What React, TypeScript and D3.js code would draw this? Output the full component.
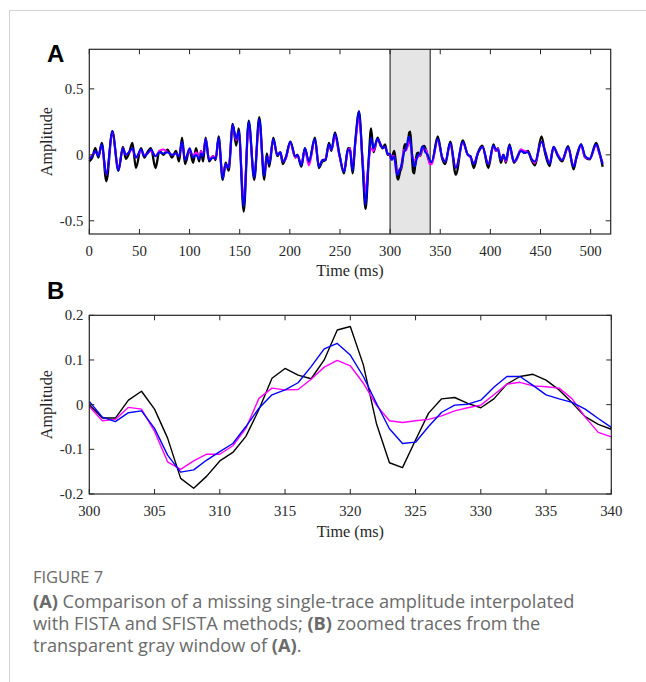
import React from "react";
import * as d3 from "d3";

// ---------- Panel A data (keypoints outside the zoom window, ms) ----------
const aTime = [
  0, 3, 6, 9, 12.5, 17, 23, 29, 33.5, 36.5, 39.5, 43, 46.5, 51.5, 55, 58, 61.5, 66, 70, 74,
  78, 82.5, 86.5, 89.5, 92.5, 95.5, 100, 103.5, 106.5, 109.5, 111.5, 113.5, 116, 119.5, 123.5, 126, 129, 133, 136, 139,
  143, 146.5, 149, 154, 159, 164.5, 169.5, 174.5, 177, 179.5, 183.5, 187.5, 190.5, 193, 196, 200.5, 205.5, 207.5, 211.5, 215,
  219, 225, 229, 232.5, 235.5, 239, 241.5, 245, 249.5, 254, 258, 260, 262.5, 265.5, 269, 272.5, 275.5, 278.5, 281, 283.5,
  287.5, 290.5, 292.5, 295, 297.5,
  341.5, 347.5, 352, 355, 360, 365.5, 372.5, 377.5, 380, 383.5, 387.5, 392, 398, 403, 405.5, 407.5, 410.5, 413, 415.5, 419,
  423.5, 426, 430.5, 434, 437.5, 441, 444.5, 451, 454.5, 459, 463, 467.5, 471.5, 477.5, 483, 486, 490.5, 494.5, 499, 505.5,
  509, 512,
];
const aReference = [
  -0.05, -0.02, 0.05, -0.02, 0.09, -0.2, 0.18, -0.12, 0.06, -0.03, 0.01, 0.09, -0.1, 0.05, -0.02, 0.02, 0.05, -0.1, 0.03, 0.0,
  0.04, -0.02, 0.03, -0.05, 0.13, -0.07, 0.04, -0.06, 0.05, -0.05, 0.03, -0.05, 0.13, -0.05, -0.01, -0.04, 0.14, -0.19, -0.06, -0.12,
  0.235, 0.07, 0.2, -0.43, 0.26, -0.19, 0.285, -0.19, 0.01, -0.09, 0.13, -0.01, 0.02, -0.07, -0.02, 0.1, -0.02, 0.0, -0.09, 0.05,
  -0.06, 0.13, -0.1, -0.05, -0.04, 0.09, 0.03, 0.17, 0.0, -0.14, 0.05, 0.05, -0.14, 0.12, 0.33, -0.06, -0.41, -0.06, 0.2, 0.02,
  0.13, 0.07, 0.05, 0.08, 0.0,
  -0.06, 0.14, -0.03, -0.07, 0.1, -0.15, 0.11, 0.0, -0.01, -0.1, 0.015, 0.07, -0.1, 0.08, 0.03, 0.05, -0.06, 0.0, -0.06, 0.08,
  -0.06, -0.035, 0.04, 0.015, 0.03, -0.04, -0.08, 0.14, 0.015, -0.085, 0.06, -0.01, -0.05, 0.065, -0.11, -0.01, 0.08, -0.02, -0.035, 0.09,
  0.01, -0.09,
];
const aFista = [
  -0.03, 0.0, 0.02, 0.0, 0.07, -0.15, 0.17, -0.11, 0.05, 0.0, 0.02, 0.04, -0.02, 0.03, 0.0, 0.01, 0.03, -0.01, 0.03, 0.04,
  0.02, 0.0, 0.01, -0.01, 0.09, -0.03, 0.03, -0.01, 0.02, -0.02, 0.03, 0.0, 0.12, -0.03, -0.01, -0.03, 0.12, -0.17, -0.07, -0.1,
  0.22, 0.11, 0.17, -0.34, 0.22, -0.16, 0.24, -0.15, -0.02, -0.04, 0.11, 0.0, 0.02, -0.05, -0.03, 0.09, -0.02, 0.0, -0.07, 0.04,
  -0.08, 0.11, -0.08, -0.04, -0.03, 0.06, 0.04, 0.14, -0.01, -0.12, 0.03, 0.05, -0.1, 0.1, 0.28, -0.02, -0.28, -0.06, 0.05, 0.03,
  0.12, 0.08, 0.05, 0.06, 0.01,
  -0.07, 0.11, -0.02, -0.05, 0.08, -0.1, 0.09, 0.0, -0.02, -0.06, 0.01, 0.06, -0.07, 0.06, 0.03, 0.05, -0.04, 0.0, -0.05, 0.06,
  -0.05, -0.04, 0.04, 0.03, 0.02, -0.03, -0.06, 0.1, 0.03, -0.06, 0.05, 0.0, -0.04, 0.05, -0.08, -0.02, 0.07, -0.02, -0.03, 0.07,
  0.0, -0.06,
];
const aSfista = [
  -0.03, -0.01, 0.03, -0.01, 0.08, -0.15, 0.18, -0.12, 0.05, 0.0, 0.02, 0.05, -0.02, 0.04, -0.01, 0.01, 0.04, -0.01, 0.02, 0.01,
  0.02, 0.0, 0.01, -0.01, 0.1, -0.04, 0.05, -0.02, 0.0, -0.03, 0.01, -0.01, 0.12, -0.04, -0.02, -0.03, 0.13, -0.18, -0.07, -0.1,
  0.23, 0.12, 0.18, -0.39, 0.25, -0.17, 0.27, -0.16, -0.01, -0.07, 0.12, 0.0, 0.02, -0.05, -0.02, 0.1, -0.01, 0.0, -0.08, 0.05,
  -0.05, 0.12, -0.09, -0.04, -0.04, 0.08, 0.04, 0.16, 0.0, -0.13, 0.04, 0.03, -0.12, 0.12, 0.33, -0.05, -0.38, -0.05, 0.13, 0.05,
  0.12, 0.08, 0.05, 0.06, 0.01,
  -0.05, 0.12, -0.02, -0.05, 0.09, -0.1, 0.1, 0.0, -0.01, -0.07, 0.01, 0.06, -0.07, 0.07, 0.04, 0.04, -0.04, 0.0, -0.04, 0.07,
  -0.05, -0.03, 0.03, 0.015, 0.02, -0.03, -0.05, 0.1, 0.03, -0.07, 0.06, -0.01, -0.04, 0.06, -0.09, -0.02, 0.08, -0.01, -0.03, 0.08,
  0.01, -0.07,
];

// ---------- Panel B data (1 ms samples, 300-340 ms) ----------
const bTime = d3.range(300, 341);
const bReference = [
  0.0, -0.03, -0.03, 0.01, 0.03, -0.01, -0.075, -0.165, -0.187, -0.16, -0.126, -0.107, -0.071, -0.011, 0.059, 0.081, 0.066, 0.058, 0.1, 0.167,
  0.175, 0.089, -0.042, -0.13, -0.141, -0.079, -0.019, 0.013, 0.016, 0.003, -0.007, 0.013, 0.046, 0.063, 0.068, 0.055, 0.033, 0.004, -0.027, -0.044,
  -0.055,
];
const bFista = [
  -0.004, -0.036, -0.033, -0.006, -0.01, -0.06, -0.128, -0.145, -0.126, -0.111, -0.111, -0.092, -0.053, 0.014, 0.037, 0.033, 0.034, 0.057, 0.084, 0.099,
  0.087, 0.048, -0.001, -0.036, -0.04, -0.036, -0.033, -0.025, -0.014, -0.007, -0.001, 0.022, 0.046, 0.05, 0.042, 0.04, 0.037, 0.013, -0.028, -0.062,
  -0.072,
];
const bSfista = [
  0.007, -0.028, -0.038, -0.018, -0.014, -0.053, -0.113, -0.151, -0.146, -0.124, -0.105, -0.087, -0.049, -0.008, 0.022, 0.033, 0.049, 0.085, 0.125, 0.137,
  0.111, 0.063, 0.003, -0.054, -0.087, -0.084, -0.049, -0.017, -0.001, 0.001, 0.01, 0.039, 0.063, 0.063, 0.043, 0.022, 0.013, 0.005, -0.01, -0.031,
  -0.051,
];

const aXTicks = [0, 50, 100, 150, 200, 250, 300, 350, 400, 450, 500];
const aYTicks = [-0.5, 0, 0.5];
const bXTicks = [300, 305, 310, 315, 320, 325, 330, 335, 340];
const bYTicks = [-0.2, -0.1, 0, 0.1, 0.2];
const windowRange = [300, 340];

const seriesColors = { reference: "#000000", fista: "#ff00ff", sfista: "#0000ff" };

type Pt = [number, number];

function merge(ta: number[], va: number[], tb: number[], vb: number[]): Pt[] {
  const pts: Pt[] = ta.map((t, i) => [t, va[i]] as Pt).concat(tb.map((t, i) => [t, vb[i]] as Pt));
  pts.sort((p, q) => p[0] - q[0]);
  return pts;
}

const serif = "'Liberation Serif', 'Times New Roman', serif";
const sans = "'Liberation Sans', Arial, sans-serif";
const capFont = "'Open Sans', 'Noto Sans', sans-serif";

function fmt(v: number) {
  if (v === 0) return "0";
  return String(v);
}

interface AxesProps {
  x: d3.ScaleLinear<number, number>;
  y: d3.ScaleLinear<number, number>;
  xTicks: number[];
  yTicks: number[];
  titleY: number;
}

function Axes({ x, y, xTicks, yTicks, titleY }: AxesProps) {
  const [x0, x1] = x.range();
  const [y0, y1] = y.range(); // y0 bottom, y1 top
  const tl = 5;
  const col = "#262626";
  return (
    <g>
      {xTicks.map((t) => (
        <g key={"x" + t}>
          <line x1={x(t)} x2={x(t)} y1={y0} y2={y0 - tl} stroke={col} strokeWidth={1} />
          <line x1={x(t)} x2={x(t)} y1={y1} y2={y1 + tl} stroke={col} strokeWidth={1} />
          <text x={x(t)} y={y0 + 21.5} textAnchor="middle" fontFamily={serif} fontSize={14.8} fill={col}>
            {fmt(t)}
          </text>
        </g>
      ))}
      {yTicks.map((t) => (
        <g key={"y" + t}>
          <line x1={x0} x2={x0 + tl} y1={y(t)} y2={y(t)} stroke={col} strokeWidth={1} />
          <line x1={x1} x2={x1 - tl} y1={y(t)} y2={y(t)} stroke={col} strokeWidth={1} />
          <text x={x0 - 6} y={y(t) + 5} textAnchor="end" fontFamily={serif} fontSize={14.8} fill={col}>
            {fmt(t)}
          </text>
        </g>
      ))}
      <rect x={x0} y={y1} width={x1 - x0} height={y0 - y1} fill="none" stroke={col} strokeWidth={1.2} />
      <text x={(x0 + x1) / 2} y={titleY} textAnchor="middle" fontFamily={serif} fontSize={16.2} fill={col}>
        Time (ms)
      </text>
      <text
        transform={`translate(${51.5},${(y0 + y1) / 2}) rotate(-90)`}
        textAnchor="middle"
        fontFamily={serif}
        fontSize={16.2}
        fill={col}
      >
        Amplitude
      </text>
    </g>
  );
}

export default function App() {
  // Panel A
  const xA = d3.scaleLinear().domain([0, 520]).range([89.3, 610.7]);
  const yA = d3.scaleLinear().domain([-0.6, 0.8]).range([234, 49.3]);
  // Panel B
  const xB = d3.scaleLinear().domain([300, 340]).range([89.3, 611.3]);
  const yB = d3.scaleLinear().domain([-0.2, 0.2]).range([494, 315.3]);

  const lineA = d3
    .line<Pt>()
    .x((d) => xA(d[0]))
    .y((d) => yA(d[1]))
    .curve(d3.curveMonotoneX);
  const lineB = d3
    .line<Pt>()
    .x((d) => xB(d[0]))
    .y((d) => yB(d[1]));

  const aSeries = [
    { key: "reference", pts: merge(aTime, aReference, bTime, bReference), w: 2.3 },
    { key: "fista", pts: merge(aTime, aFista, bTime, bFista), w: 2.0 },
    { key: "sfista", pts: merge(aTime, aSfista, bTime, bSfista), w: 2.0 },
  ];
  const bSeries = [
    { key: "reference", pts: bTime.map((t, i) => [t, bReference[i]] as Pt) },
    { key: "fista", pts: bTime.map((t, i) => [t, bFista[i]] as Pt) },
    { key: "sfista", pts: bTime.map((t, i) => [t, bSfista[i]] as Pt) },
  ];

  const capColor = "#6a6a6a";

  return (
    <svg
      width={646}
      height={682}
      style={{ position: "absolute", left: 0, top: 0, display: "block", background: "#fff" }}
    >
      <rect x={0} y={0} width={646} height={682} fill="#ffffff" />
      {/* card border */}
      <line x1={9} x2={646} y1={10.5} y2={10.5} stroke="#d2d2d2" strokeWidth={1} />
      <line x1={9.5} x2={9.5} y1={10} y2={682} stroke="#d2d2d2" strokeWidth={1} />

      {/* Panel A */}
      <text x={47} y={61.5} fontFamily={sans} fontWeight="bold" fontSize={24} fill="#000">
        A
      </text>
      <rect
        x={xA(windowRange[0])}
        y={yA(0.8)}
        width={xA(windowRange[1]) - xA(windowRange[0])}
        height={yA(-0.6) - yA(0.8) + 1}
        fill="#e5e5e5"
      />
      <line x1={xA(windowRange[0])} x2={xA(windowRange[0])} y1={yA(0.8)} y2={yA(-0.6)} stroke="#444" strokeWidth={1.3} />
      <line x1={xA(windowRange[1])} x2={xA(windowRange[1])} y1={yA(0.8)} y2={yA(-0.6)} stroke="#444" strokeWidth={1.3} />
      {aSeries.map((s) => (
        <path
          key={s.key}
          d={lineA(s.pts) || ""}
          fill="none"
          stroke={(seriesColors as any)[s.key]}
          strokeWidth={s.w}
          strokeLinejoin="round"
        />
      ))}
      <Axes x={xA} y={yA} xTicks={aXTicks} yTicks={aYTicks} titleY={276} />

      {/* Panel B */}
      <text x={47} y={299} fontFamily={sans} fontWeight="bold" fontSize={24} fill="#000">
        B
      </text>
      {bSeries.map((s) => (
        <path
          key={s.key}
          d={lineB(s.pts) || ""}
          fill="none"
          stroke={(seriesColors as any)[s.key]}
          strokeWidth={1.4}
          strokeLinejoin="round"
        />
      ))}
      <Axes x={xB} y={yB} xTicks={bXTicks} yTicks={bYTicks} titleY={537} />

      {/* Caption */}
      <text x={33} y={583} fontFamily={capFont} fontSize={16.5} fill={capColor}>
        FIGURE 7
      </text>
      <text x={33} y={608} fontFamily={capFont} fontSize={18.2} fill={capColor}>
        <tspan fontWeight="bold">(A)</tspan>
        <tspan> Comparison of a missing single-trace amplitude interpolated</tspan>
      </text>
      <text x={33} y={630} fontFamily={capFont} fontSize={18.2} fill={capColor}>
        <tspan>with FISTA and SFISTA methods; </tspan>
        <tspan fontWeight="bold">(B)</tspan>
        <tspan> zoomed traces from the</tspan>
      </text>
      <text x={33} y={652} fontFamily={capFont} fontSize={18.2} fill={capColor}>
        <tspan>transparent gray window of </tspan>
        <tspan fontWeight="bold">(A)</tspan>
        <tspan>.</tspan>
      </text>
    </svg>
  );
}
